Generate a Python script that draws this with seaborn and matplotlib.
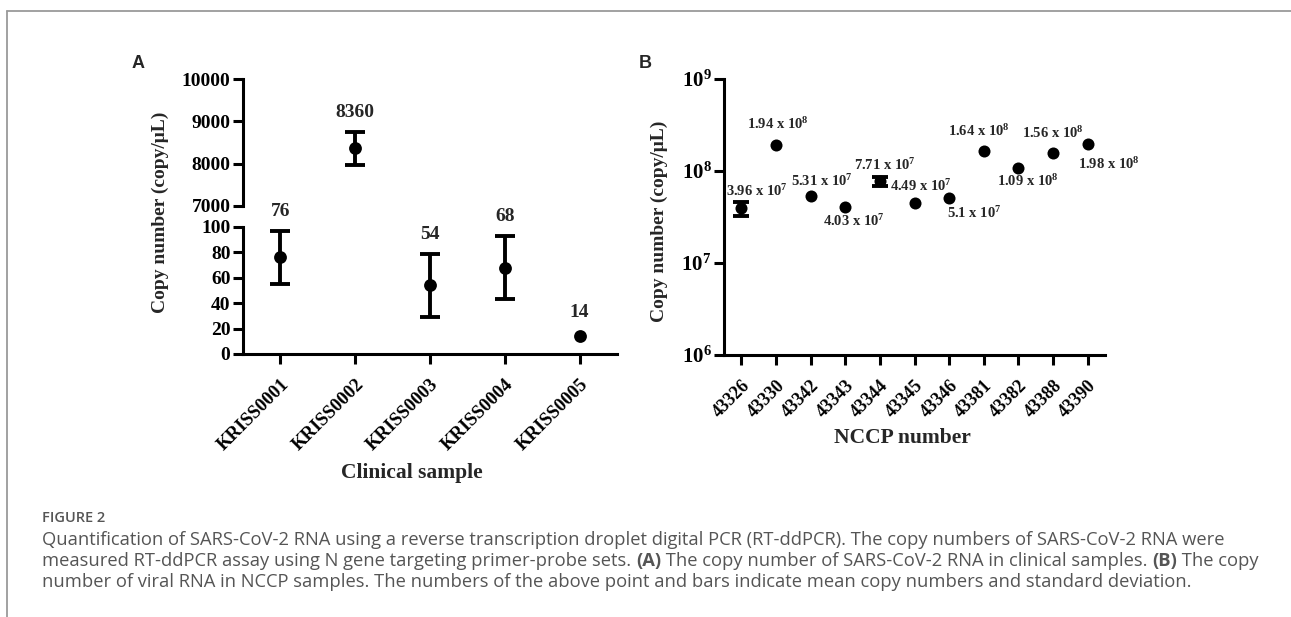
import numpy as np
import pandas as pd
import matplotlib
matplotlib.use("Agg")
import matplotlib.pyplot as plt
import seaborn as sns
from matplotlib.lines import Line2D
from matplotlib.ticker import FixedLocator, NullLocator, LogFormatterMathtext

# --- data (A: clinical samples, B: NCCP samples) ---
clinical_samples = ["KRISS0001", "KRISS0002", "KRISS0003", "KRISS0004", "KRISS0005"]
clinical_mean = [76, 8360, 54, 68, 14]
clinical_sd = [21, 380, 25, 25, 0]
clinical_labels = ["76", "8360", "54", "68", "14"]

nccp_ids = ["43326", "43330", "43342", "43343", "43344", "43345",
            "43346", "43381", "43382", "43388", "43390"]
nccp_mean = [3.96e7, 1.94e8, 5.31e7, 4.03e7, 7.71e7, 4.49e7,
             5.1e7, 1.64e8, 1.09e8, 1.56e8, 1.98e8]
nccp_sd = [7.0e6, 0, 0, 0, 9.0e6, 0, 0, 0, 0, 0, 0]
nccp_labels = [r"3.96 x 10$^{7}$", r"1.94 x 10$^{8}$", r"5.31 x 10$^{7}$",
               r"4.03 x 10$^{7}$", r"7.71 x 10$^{7}$", r"4.49 x 10$^{7}$",
               r"5.1 x 10$^{7}$", r"1.64 x 10$^{8}$", r"1.09 x 10$^{8}$",
               r"1.56 x 10$^{8}$", r"1.98 x 10$^{8}$"]
# label offsets from each point, in points
nccp_label_offsets = [(11.5, 12), (1.5, 14.5), (8, 11), (6, -10), (3.5, 12), (4.5, 12),
                      (18, -11), (-3.5, 14.5), (6.5, -9.5), (0, 14.5), (15, -14.5)]

caption_title = "FIGURE 2"
caption_lines = [
    [("Quantification of SARS-CoV-2 RNA using a reverse transcription droplet digital PCR "
      "(RT-ddPCR). The copy numbers of SARS-CoV-2 RNA were", "normal")],
    [("measured RT-ddPCR assay using N gene targeting primer-probe sets. ", "normal"),
     ("(A)", "bold"),
     (" The copy number of SARS-CoV-2 RNA in clinical samples. ", "normal"),
     ("(B)", "bold"),
     (" The copy", "normal")],
    [("number of viral RNA in NCCP samples. The numbers of the above point and bars "
      "indicate mean copy numbers and standard deviation.", "normal")],
]

# --- style ---
sns.set_theme(style="ticks")
plt.rcParams['font.family'] = ['Liberation Serif', 'DejaVu Serif']
plt.rcParams['font.weight'] = 'bold'
plt.rcParams['mathtext.default'] = 'regular'
plt.rcParams['axes.linewidth'] = 2.2

W, H = 1291, 617
fig = plt.figure(figsize=(W / 100, H / 100), dpi=100)
fig.patch.set_facecolor('white')


def fx(px):
    return px / W


def fy(py):
    return 1 - py / H


def style_axis(ax):
    ax.set_facecolor('white')
    ax.tick_params(axis='both', direction='out', length=7, width=2.2,
                   color='black', labelcolor='black', labelsize=14, pad=2)
    for s in ax.spines.values():
        s.set_color('black')
        s.set_linewidth(2.2)
    ax.set_xlabel('')
    ax.set_ylabel('')


df_a = pd.DataFrame({"sample": clinical_samples, "mean": clinical_mean, "sd": clinical_sd})
df_b = pd.DataFrame({"nccp": nccp_ids, "mean": nccp_mean, "sd": nccp_sd})

# --- panel A: broken y axis ---
ax_top = fig.add_axes([fx(243), fy(206), fx(617) - fx(243), fy(79) - fy(206)])
ax_bot = fig.add_axes([fx(243), fy(354), fx(617) - fx(243), fy(227) - fy(354)])

for ax in (ax_top, ax_bot):
    sns.scatterplot(data=df_a, x="sample", y="mean", ax=ax, color="black",
                    s=85, linewidth=0, zorder=3, legend=False)
    err = df_a[df_a["sd"] > 0]
    ax.errorbar(err.index, err["mean"], yerr=err["sd"], fmt="none", ecolor="black",
                elinewidth=2.8, capsize=7, capthick=2.8, zorder=2)
    ax.set_xlim(-0.5, len(clinical_samples) - 0.5)
    style_axis(ax)
    ax.spines['right'].set_visible(False)
    ax.spines['top'].set_visible(False)

ax_top.set_ylim(7000, 10000)
ax_top.yaxis.set_major_locator(FixedLocator([7000, 8000, 9000, 10000]))
ax_top.spines['bottom'].set_visible(False)
ax_top.tick_params(axis='x', bottom=False, labelbottom=False)

ax_bot.set_ylim(0, 100)
ax_bot.yaxis.set_major_locator(FixedLocator([0, 20, 40, 60, 80, 100]))
ax_bot.set_xticks(range(len(clinical_samples)))
ax_bot.set_xticklabels(clinical_samples, rotation=45, ha='right',
                       rotation_mode='anchor', fontsize=13.5)
ax_bot.tick_params(axis='x', pad=9)

for i, (m, sd, lab) in enumerate(zip(clinical_mean, clinical_sd, clinical_labels)):
    ax = ax_top if m > 1000 else ax_bot
    ax.annotate(lab, xy=(i, m + sd), xytext=(0, 8 if sd > 0 else 11),
                textcoords='offset points', ha='center', va='bottom',
                fontsize=14, fontweight='bold', annotation_clip=False)

fig.text(fx(160), fy(212), "Copy number (copy/\u03bcL)", rotation=90,
         ha='center', va='center', fontsize=14, fontweight='bold')
fig.text(fx(412), fy(473), "Clinical sample", ha='center', va='center',
         fontsize=15.5, fontweight='bold')

# --- panel B: log scale ---
ax_b = fig.add_axes([fx(724), fy(355), fx(1105) - fx(724), fy(79) - fy(355)])
sns.scatterplot(data=df_b, x="nccp", y="mean", ax=ax_b, color="black",
                s=75, linewidth=0, zorder=3, legend=False)
err = df_b[df_b["sd"] > 0]
ax_b.errorbar(err.index, err["mean"], yerr=err["sd"], fmt="none", ecolor="black",
              elinewidth=2.8, capsize=6, capthick=2.8, zorder=2)
ax_b.set_yscale('log')
ax_b.set_ylim(1e6, 1e9)
ax_b.set_xlim(-0.5, len(nccp_ids) - 0.5)
style_axis(ax_b)
ax_b.spines['right'].set_visible(False)
ax_b.spines['top'].set_visible(False)
ax_b.yaxis.set_major_locator(FixedLocator([1e6, 1e7, 1e8, 1e9]))
ax_b.yaxis.set_minor_locator(NullLocator())
ax_b.yaxis.set_major_formatter(LogFormatterMathtext())
ax_b.tick_params(axis='y', labelsize=15)
ax_b.set_xticks(range(len(nccp_ids)))
ax_b.set_xticklabels(nccp_ids, rotation=45, ha='right', rotation_mode='anchor', fontsize=13)
ax_b.tick_params(axis='x', pad=9)

for i, (m, lab, off) in enumerate(zip(nccp_mean, nccp_labels, nccp_label_offsets)):
    ax_b.annotate(lab, xy=(i, m), xytext=off, textcoords='offset points',
                  ha='center', va='center', fontsize=10.5, fontweight='bold',
                  annotation_clip=False)

fig.text(fx(659), fy(221), "Copy number (copy/\u03bcL)", rotation=90,
         ha='center', va='center', fontsize=14, fontweight='bold')
fig.text(fx(902), fy(438), "NCCP number", ha='center', va='center',
         fontsize=15.5, fontweight='bold')

# panel letters
fig.text(fx(138), fy(63), "A", ha='center', va='center', fontsize=13,
         fontweight='bold', family=['Liberation Sans', 'DejaVu Sans'])
fig.text(fx(645), fy(63), "B", ha='center', va='center', fontsize=13,
         fontweight='bold', family=['Liberation Sans', 'DejaVu Sans'])

# --- frame lines ---
fig.add_artist(Line2D([fx(7), fx(7)], [0, fy(11)], transform=fig.transFigure,
                      color='#9a9a9a', lw=1.3))
fig.add_artist(Line2D([fx(7), 1], [fy(11), fy(11)], transform=fig.transFigure,
                      color='#9a9a9a', lw=1.3))

# --- caption ---
cap_font = ['Open Sans', 'DejaVu Sans']
fig.text(fx(42), fy(522), caption_title, ha='left', va='baseline', fontsize=10.5,
         fontweight='semibold', color='#555555', family=cap_font)

renderer = fig.canvas.get_renderer()
baselines = [545, 566, 587]
for base, runs in zip(baselines, caption_lines):
    x = 42
    for txt, wt in runs:
        t = fig.text(fx(x), fy(base), txt, ha='left', va='baseline', fontsize=13.2,
                     fontweight=wt, color='#555555', family=cap_font)
        x += t.get_window_extent(renderer).width

fig.savefig("out.png", dpi=100)
